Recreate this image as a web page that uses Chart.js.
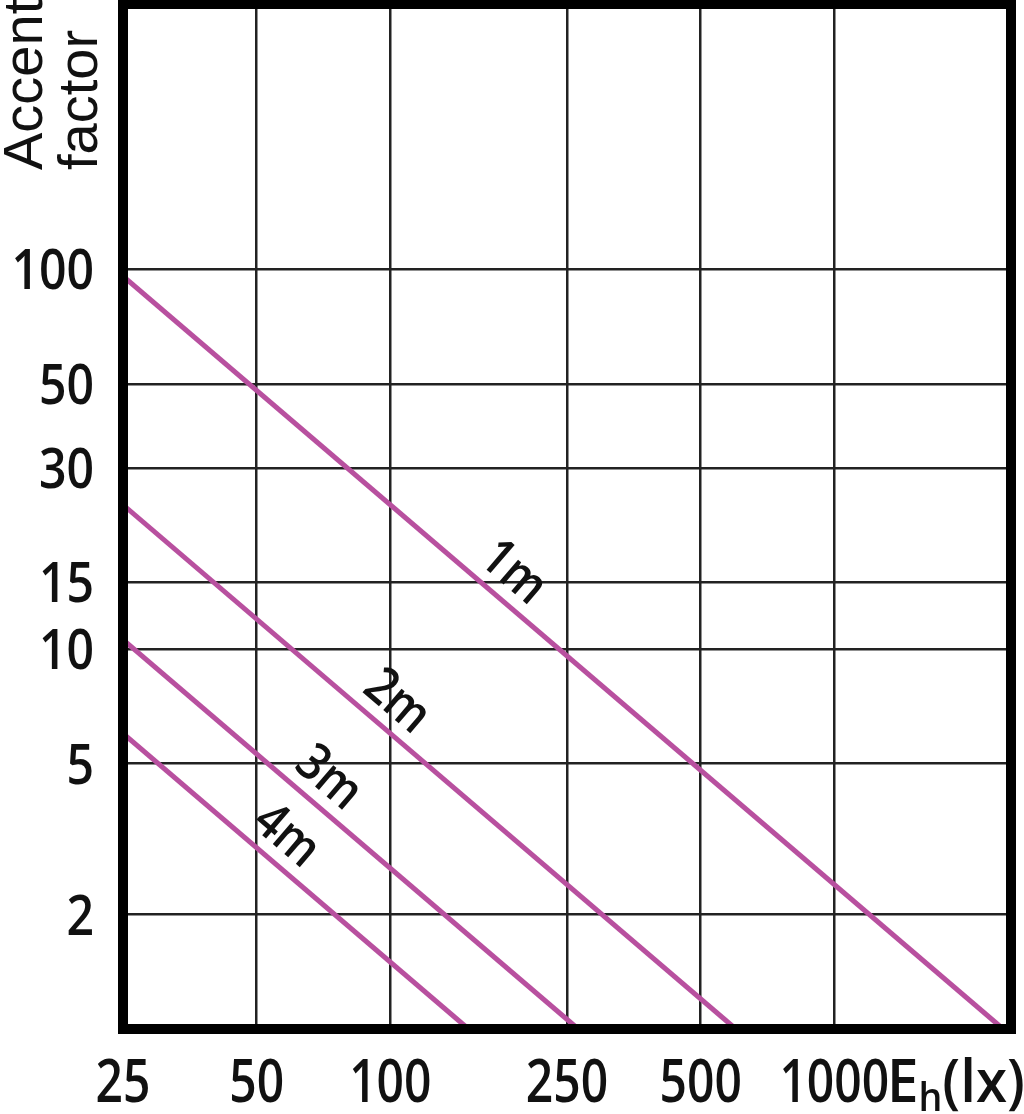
<!DOCTYPE html>
<html>
<head>
<meta charset="utf-8">
<script src="https://cdn.jsdelivr.net/npm/chart.js@4/dist/chart.umd.min.js"></script>
<style>
  html, body { margin: 0; padding: 0; background: #fff; }
  #wrap { width: 1024px; height: 1114px; position: relative; }
</style>
</head>
<body>
<div id="wrap"><canvas id="myChart"></canvas></div>
<script>
// axis ticks (log scales)
const xTicks = [25, 50, 100, 250, 500, 1000, 2500];
const xTickLabels = ["25", "50", "100", "250", "500", "1000", ""];
const yTicks = [1, 2, 5, 10, 15, 30, 50, 100, 500];
const yTickLabels = ["", "2", "5", "10", "15", "30", "50", "100", ""];

// one straight line per mounting distance
const distances = ["1m", "2m", "3m", "4m"];
const lux1m = [25, 2400];
const accent1m = [96, 1];
const lux2m = [25, 600];
const accent2m = [24, 1];
const lux3m = [25, 265];
const accent3m = [10.6, 1];
const lux4m = [25, 150];
const accent4m = [6, 1];

const FONT = '"Open Sans", "Noto Sans", sans-serif';
const LINE_COLOR = "#b8509f";
const SQUASH = 0.8; // numbers in the original are set in a narrow face

function toPoints(xs, ys) {
  return xs.map((x, i) => ({ x, y: ys[i] }));
}

const seriesLux = [lux1m, lux2m, lux3m, lux4m];
const seriesAccent = [accent1m, accent2m, accent3m, accent4m];

const datasets = distances.map((d, i) => ({
  label: d,
  data: toPoints(seriesLux[i], seriesAccent[i]),
  showLine: true,
  borderColor: LINE_COLOR,
  borderWidth: 5,
  pointRadius: 0,
  fill: false,
}));

function narrowText(ctx, text, x, y, align, sx) {
  ctx.save();
  ctx.translate(x, y);
  ctx.scale(sx, 1);
  ctx.textAlign = align;
  ctx.fillText(text, 0, 0);
  ctx.restore();
}

// tick numbers, frame, line labels and the two axis captions
const extras = {
  id: "extras",
  afterDatasetsDraw(chart, args, opts) {
    const { ctx, chartArea } = chart;
    const xs = chart.scales.x;
    const ys = chart.scales.y;

    // distance labels along each line
    ctx.save();
    ctx.fillStyle = "#111";
    ctx.font = "600 52px " + FONT;
    ctx.textAlign = "center";
    ctx.textBaseline = "middle";
    chart.data.datasets.forEach((ds, i) => {
      const pts = chart.getDatasetMeta(i).data;
      const p0 = pts[0], p1 = pts[pts.length - 1];
      const dx = p1.x - p0.x, dy = p1.y - p0.y;
      const len = Math.hypot(dx, dy);
      const px = xs.getPixelForValue(opts.labelLux[i]);
      const t = (px - p0.x) / dx;
      const cx = p0.x + t * dx + (dy / len) * opts.labelOffset;
      const cy = p0.y + t * dy - (dx / len) * opts.labelOffset;
      ctx.save();
      ctx.translate(cx, cy);
      ctx.rotate(Math.atan2(dy, dx));
      ctx.scale(0.86, 1);
      ctx.fillText(ds.label, 0, 0);
      ctx.restore();
    });
    ctx.restore();

    // heavy frame round the plot
    ctx.save();
    ctx.strokeStyle = "#000";
    ctx.lineWidth = 10;
    ctx.strokeRect(chartArea.left, chartArea.top,
      chartArea.right - chartArea.left, chartArea.bottom - chartArea.top);
    ctx.restore();

    // tick numbers, placed by the scales
    ctx.save();
    ctx.fillStyle = "#111";
    ctx.textBaseline = "alphabetic";
    ctx.font = "600 60px " + FONT;
    xs.ticks.forEach((tk, i) => {
      const label = xTickLabels[i];
      if (label) narrowText(ctx, label, xs.getPixelForValue(tk.value), 1102, "center", SQUASH);
    });
    ctx.font = "600 56px " + FONT;
    ys.ticks.forEach((tk, i) => {
      const label = yTickLabels[i];
      if (label) narrowText(ctx, label, 94, ys.getPixelForValue(tk.value) + 20, "right", 0.86);
    });
    ctx.restore();

    // y caption, reading upwards
    ctx.save();
    ctx.fillStyle = "#111";
    ctx.font = '56px "Liberation Sans", Arial, sans-serif';
    ctx.textAlign = "left";
    ctx.textBaseline = "alphabetic";
    ctx.translate(42, 170);
    ctx.rotate(-Math.PI / 2);
    ctx.fillText("Accent", 0, 0);
    ctx.fillText("factor", 0, 55);
    ctx.restore();

    // x caption E_h(lx)
    ctx.save();
    ctx.fillStyle = "#111";
    ctx.textBaseline = "alphabetic";
    ctx.translate(887, 1102);
    ctx.scale(0.94, 1);
    ctx.textAlign = "left";
    let x = 0;
    ctx.font = "600 60px " + FONT;
    ctx.fillText("E", x, 0);
    x += ctx.measureText("E").width;
    ctx.font = "600 40px " + FONT;
    ctx.fillText("h", x, 9);
    x += ctx.measureText("h").width;
    ctx.font = "600 60px " + FONT;
    ctx.fillText("(lx)", x, 0);
    ctx.restore();
  },
};

const ctx = document.getElementById("myChart").getContext("2d");
const myChart = new Chart(ctx, {
  type: "scatter",
  data: { datasets },
  options: {
    responsive: true,
    maintainAspectRatio: false,
    animation: false,
    layout: { padding: { left: 0, right: 13, top: 4, bottom: 0 } },
    plugins: {
      legend: { display: false },
      tooltip: { enabled: false },
      extras: { labelLux: [172, 94, 66, 53], labelOffset: 28 },
    },
    scales: {
      x: {
        type: "logarithmic",
        min: 25,
        max: 2500,
        border: { display: false },
        grid: { color: "#222", lineWidth: 2.5, drawTicks: false },
        afterBuildTicks: (scale) => {
          scale.ticks = xTicks.map((v) => ({ value: v }));
        },
        afterFit: (scale) => {
          scale.height = 85;
          scale.paddingLeft = 0;
          scale.paddingRight = 0;
        },
        ticks: { display: false },
      },
      y: {
        type: "logarithmic",
        min: 1,
        max: 500,
        border: { display: false },
        grid: { color: "#222", lineWidth: 2.5, drawTicks: false },
        afterBuildTicks: (scale) => {
          scale.ticks = yTicks.map((v) => ({ value: v }));
        },
        afterFit: (scale) => {
          scale.width = 123;
          scale.paddingTop = 0;
          scale.paddingBottom = 0;
        },
        ticks: { display: false },
      },
    },
  },
  plugins: [extras],
});
</script>
</body>
</html>
